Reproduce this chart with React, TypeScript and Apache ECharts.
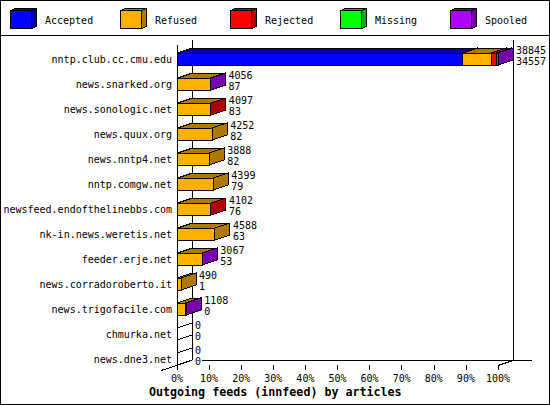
import React, { useEffect, useRef } from "react";
import * as echarts from "echarts";

const categories = [
  "nntp.club.cc.cmu.edu", "news.snarked.org", "news.sonologic.net", "news.quux.org",
  "news.nntp4.net", "nntp.comgw.net", "newsfeed.endofthelinebbs.com", "nk-in.news.weretis.net",
  "feeder.erje.net", "news.corradoroberto.it", "news.trigofacile.com", "chmurka.net", "news.dne3.net",
];
const totals = [38845, 4056, 4097, 4252, 3888, 4399, 4102, 4588, 3067, 490, 1108, 0, 0];
const accepted = [34557, 87, 83, 82, 82, 79, 76, 63, 53, 1, 0, 0, 0];
const refused = [3490, 3950, 3990, 4170, 3806, 4320, 4000, 4525, 3000, 489, 1040, 0, 0];
const rejected = [590, 0, 24, 0, 0, 0, 26, 0, 0, 0, 0, 0, 0];
const missing = [0, 0, 0, 0, 0, 0, 0, 0, 0, 0, 0, 0, 0];
const spooled = [208, 19, 0, 0, 0, 0, 0, 0, 14, 0, 68, 0, 0];

const statusNames = ["Accepted", "Refused", "Rejected", "Missing", "Spooled"];
const statusValues = [accepted, refused, rejected, missing, spooled];
const frontColors = ["#0000ff", "#ffb000", "#ff0000", "#00ff00", "#af00ff"];
const shadeColors = ["#0000af", "#af7900", "#af0000", "#00af00", "#7900af"];
const percentTicks = { min: 0, max: 100, interval: 10 };
const chartTitle = "Outgoing feeds (innfeed) by articles";

const MONO = '"DejaVu Sans Mono", monospace';
const DX = 15;
const DY = 5;
const BAR_UP = 6.5;
const BAR_DOWN = 5.5;
const maxTotal = Math.max(...totals);
const pct = (v: number) => (v / maxTotal) * 100;

const poly = (points: number[][], fill: string) => ({
  type: "polygon",
  shape: { points },
  style: { fill, stroke: "#000", lineWidth: 1 },
});

const statusSeries = statusNames.map((name, s) => {
  const data: number[][] = [];
  categories.forEach((_, i) => {
    let before = 0;
    for (let k = 0; k < s; k++) before += statusValues[k][i];
    const v = statusValues[s][i];
    if (v > 0) data.push([pct(before), pct(before + v), i]);
  });
  return {
    type: "custom",
    name,
    clip: false,
    encode: { x: [0, 1], y: 2 },
    data,
    renderItem: (_p: any, api: any) => {
      const a = api.coord([api.value(0), api.value(2)]);
      const b = api.coord([api.value(1), api.value(2)]);
      const x0 = a[0], x1 = b[0];
      const top = a[1] - BAR_UP, bot = a[1] + BAR_DOWN;
      return {
        type: "group",
        children: [
          poly([[x1, top], [x1 + DX, top - DY], [x1 + DX, bot - DY], [x1, bot]], shadeColors[s]),
          poly([[x0, top], [x0 + DX, top - DY], [x1 + DX, top - DY], [x1, top]], shadeColors[s]),
          poly([[x0, top], [x1, top], [x1, bot], [x0, bot]], frontColors[s]),
        ],
      };
    },
  };
});

const labelSeries = {
  type: "custom",
  name: "labels",
  clip: false,
  encode: { x: 0, y: 1 },
  data: categories.map((_, i) => [pct(totals[i]), i, totals[i], accepted[i]]),
  renderItem: (_p: any, api: any) => {
    const c = api.coord([api.value(0), api.value(1)]);
    const x = c[0], y = c[1];
    const text = (t: string, ty: number) => ({
      type: "text",
      x: x + DX + 3,
      y: ty,
      style: { text: t, fill: "#000", font: `10px ${MONO}`, align: "left", verticalAlign: "middle" },
    });
    const children: any[] = [
      text(String(api.value(2)), y - 9.5),
      text(String(api.value(3)), y + 1.5),
    ];
    if (api.value(2) === 0) {
      const top = y - BAR_UP, bot = y + BAR_DOWN;
      children.unshift(poly([[x, top], [x + DX, top - DY], [x + DX, bot - DY], [x, bot]], "#fff"));
    }
    return { type: "group", children };
  },
};

const blackLine = (x1: number, y1: number, x2: number, y2: number) => ({
  type: "line",
  shape: { x1, y1, x2, y2 },
  style: { stroke: "#000", lineWidth: 1 },
  z: 1,
});

const legendGraphics = statusNames.flatMap((name, i) => {
  const x = 10.5 + 110 * i;
  return [
    { type: "polygon", shape: { points: [[x + 21, 10.5], [x + 26, 8.5], [x + 26, 26.5], [x + 21, 28.5]] }, style: { fill: shadeColors[i], stroke: "#000", lineWidth: 1 } },
    { type: "polygon", shape: { points: [[x, 10.5], [x + 5, 8.5], [x + 26, 8.5], [x + 21, 10.5]] }, style: { fill: shadeColors[i], stroke: "#000", lineWidth: 1 } },
    { type: "rect", shape: { x, y: 10.5, width: 21, height: 18 }, style: { fill: frontColors[i], stroke: "#000", lineWidth: 1 } },
    { type: "text", x: x + 34.5, y: 20, style: { text: name, fill: "#000", font: `10px ${MONO}`, align: "left", verticalAlign: "middle" } },
  ];
});

export default function App() {
  const ref = useRef<HTMLDivElement>(null);
  useEffect(() => {
    document.body.style.margin = "0";
    const chart = echarts.init(ref.current!, undefined, { renderer: "svg" });
    chart.setOption({
      animation: false,
      backgroundColor: "#fff",
      title: {
        text: chartTitle,
        left: 149,
        top: 386,
        padding: 0,
        textStyle: { fontFamily: MONO, fontSize: 11.67, fontWeight: "bold", color: "#000" },
      },
      grid: { left: 177, top: 47, width: 321, height: 325 },
      xAxis: {
        type: "value",
        ...percentTicks,
        offset: -7,
        axisLine: { show: false },
        axisTick: { show: true, length: 5, lineStyle: { color: "#000", width: 1 } },
        splitLine: { show: false },
        axisLabel: { formatter: "{value}%", color: "#000", fontFamily: MONO, fontSize: 10, margin: 8, hideOverlap: false },
      },
      yAxis: {
        type: "category",
        inverse: true,
        data: categories,
        axisLine: { show: false },
        axisTick: { show: false },
        axisLabel: { color: "#000", fontFamily: MONO, fontSize: 10, margin: 5, interval: 0 },
      },
      graphic: [
        { type: "rect", shape: { x: 0.5, y: 0.5, width: 549, height: 404 }, style: { fill: "none", stroke: "#000", lineWidth: 1 }, z: 1 },
        blackLine(0, 35.5, 550, 35.5),
        blackLine(177.5, 45, 177.5, 370),
        blackLine(192.5, 40, 192.5, 360),
        blackLine(513.5, 40, 513.5, 360),
        { type: "rect", shape: { x: 202, y: 360, width: 330, height: 1 }, style: { fill: "#000" }, z: 10 },
        blackLine(161, 370.5, 192, 360.5),
        blackLine(498, 365.5, 513, 360.5),
        ...legendGraphics,
      ],
      series: [...statusSeries, labelSeries],
    });
    return () => chart.dispose();
  }, []);
  return (
    <>
      <style>{"svg path, svg line, svg rect, svg polygon { shape-rendering: crispEdges; }"}</style>
      <div ref={ref} style={{ width: 550, height: 405 }} />
    </>
  );
}
